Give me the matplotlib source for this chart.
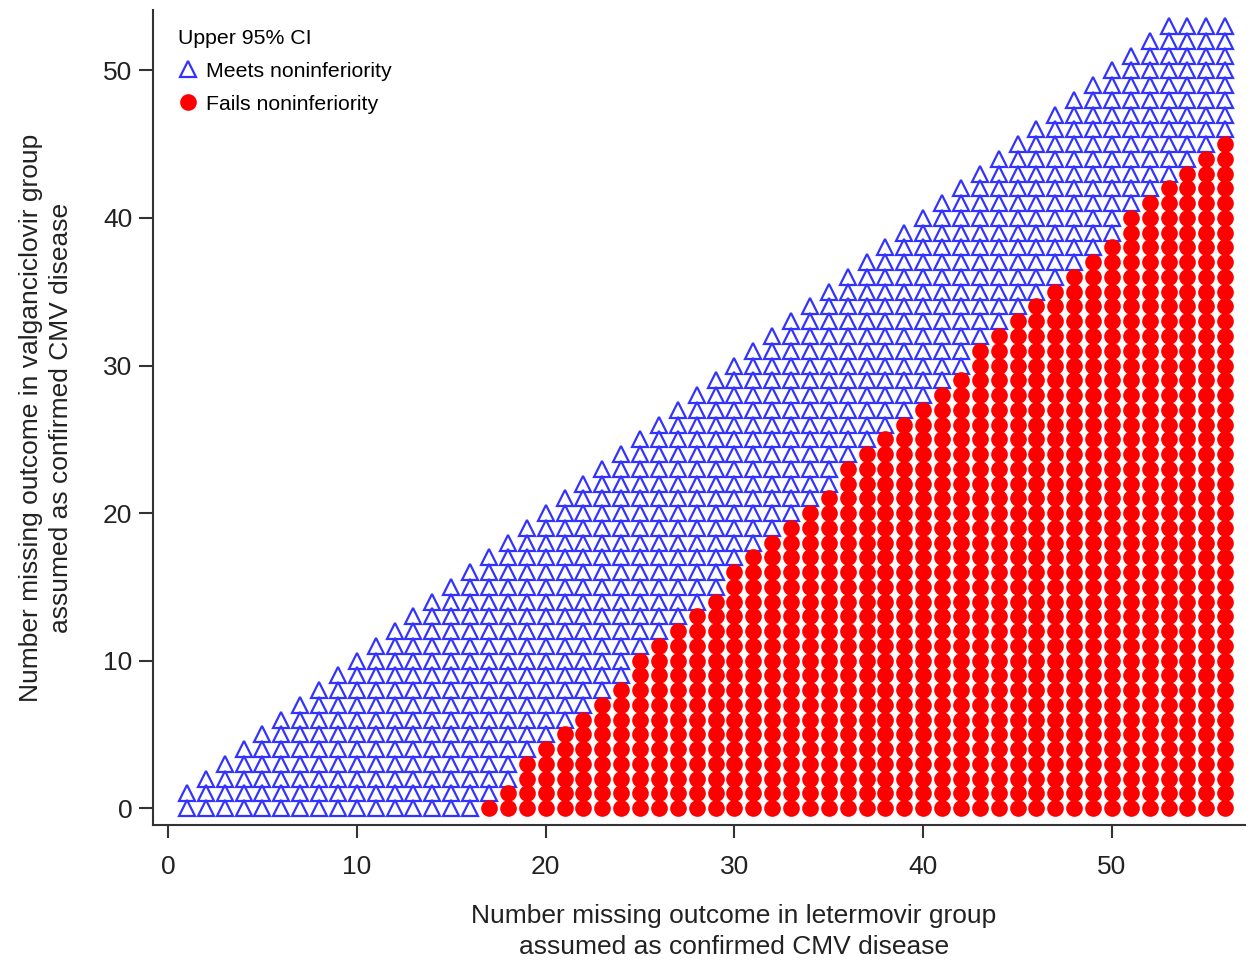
import numpy as np
import matplotlib
matplotlib.use('Agg')
import matplotlib.pyplot as plt

plt.rcParams['font.family'] = ['Liberation Sans', 'DejaVu Sans']

# Missing outcomes in letermovir group (x) and the highest value shown
# for the valganciclovir group (y) in each column
n_letermovir = list(range(1, 57))
y_max = [1, 2, 3, 4, 5, 6, 7, 8, 9, 10, 11, 12, 13, 14, 15, 16, 17, 18, 19, 20,
         21, 22, 23, 24, 25, 26, 27, 28, 29, 30, 31, 32, 33, 34, 35, 36, 37, 38,
         39, 40, 41, 42, 43, 44, 45, 46, 47, 48, 49, 50, 51, 52, 53, 53, 53, 53]
# highest y that fails noninferiority (-1 = none)
fail_top = [-1, -1, -1, -1, -1, -1, -1, -1, -1, -1, -1, -1, -1, -1, -1, -1,
            0, 1, 3, 4, 5, 6, 7, 8, 10, 11, 12, 13, 14, 16, 17, 18, 19, 20, 21,
            23, 24, 25, 26, 27, 28, 29, 31, 32, 33, 34, 35, 36, 37, 38, 40, 41,
            42, 43, 44, 45]

meet_x, meet_y, fail_x, fail_y = [], [], [], []
for x, top, ft in zip(n_letermovir, y_max, fail_top):
    for y in range(0, top + 1):
        if y <= ft:
            fail_x.append(x)
            fail_y.append(y)
        else:
            meet_x.append(x)
            meet_y.append(y)

fig = plt.figure(figsize=(12.48, 9.6), dpi=100)
ax = fig.add_axes([0.1226, 0.1406, 0.875, 0.849])

ax.plot(meet_x, meet_y, ls='none', marker='^', ms=11.5, mfc='none',
        mec='#3333ff', mew=1.6, label='Meets noninferiority')
ax.plot(fail_x, fail_y, ls='none', marker='o', ms=12, mfc='#ff0000',
        mec='#ff0000', mew=0, label='Fails noninferiority')

ax.set_xlim(-0.8, 57.05)
ax.set_ylim(-1.15, 54.1)
ax.set_xticks([0, 10, 20, 30, 40, 50])
ax.set_yticks([0, 10, 20, 30, 40, 50])

for s in ['top', 'right']:
    ax.spines[s].set_visible(False)
for s in ['left', 'bottom']:
    ax.spines[s].set_linewidth(1.5)
    ax.spines[s].set_color('#333333')
ax.tick_params(axis='x', length=9.5, width=1.5, color='#333333',
               labelsize=19, pad=12, labelcolor='#222222')
ax.tick_params(axis='y', length=10, width=1.5, color='#333333',
               labelsize=19, pad=5, labelcolor='#222222')

ax.set_xlabel('Number missing outcome in letermovir group\n'
              'assumed as confirmed CMV disease', fontsize=19,
              color='#222222', linespacing=1.35)
ax.xaxis.set_label_coords(0.532, -0.097)
ax.set_ylabel('Number missing outcome in valganciclovir group\n'
              'assumed as confirmed CMV disease', fontsize=19,
              color='#222222', linespacing=1.35)
ax.yaxis.set_label_coords(-0.073, 0.5)

leg = ax.legend(loc='upper left', title='Upper 95% CI', frameon=False,
                fontsize=15.3, title_fontsize=15.3, handletextpad=0.35,
                borderaxespad=0.5, labelspacing=0.65, handlelength=1.0,
                bbox_to_anchor=(0.005, 1.0))
leg._legend_box.align = 'left'

fig.savefig('out.png', dpi=100)
